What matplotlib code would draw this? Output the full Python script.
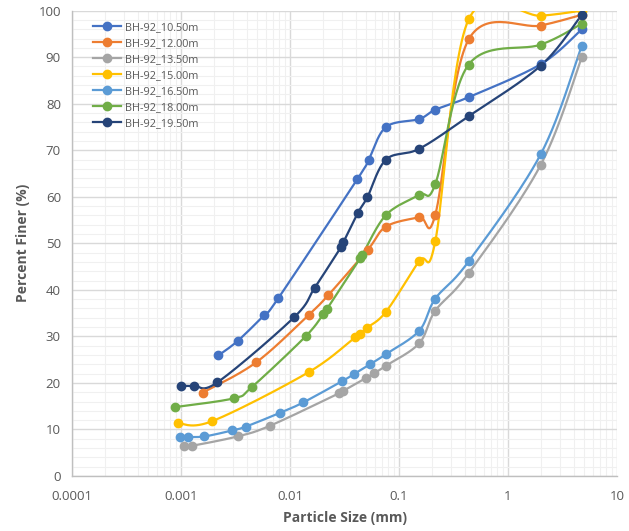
import matplotlib
matplotlib.use("Agg")
import matplotlib.pyplot as plt
from matplotlib.ticker import FixedLocator, MultipleLocator, LogLocator, NullFormatter
import numpy as np

plt.rcParams['font.family'] = ['Open Sans', 'DejaVu Sans']

labels = ["BH-92_10.50m", "BH-92_12.00m", "BH-92_13.50m", "BH-92_15.00m",
          "BH-92_16.50m", "BH-92_18.00m", "BH-92_19.50m"]
colors = ["#4472C4", "#ED7D31", "#A5A5A5", "#FFC000", "#5B9BD5", "#70AD47", "#264478"]

# particle size (mm) and percent finer for each sample
x_1050 = [0.0022, 0.0033, 0.0058, 0.0078, 0.0415, 0.0527, 0.076, 0.153, 0.215, 0.435, 2.0, 4.75]
y_1050 = [25.9, 29.0, 34.6, 38.2, 63.8, 68.0, 75.0, 76.7, 78.7, 81.4, 88.5, 96.0]

x_1200 = [0.00158, 0.00488, 0.0148, 0.0225, 0.0516, 0.076, 0.153, 0.215, 0.435, 2.0, 4.75]
y_1200 = [17.9, 24.4, 34.6, 38.9, 48.6, 53.6, 55.6, 56.1, 93.8, 96.8, 99.1]

x_1350 = [0.00107, 0.00126, 0.0033, 0.00656, 0.0283, 0.0308, 0.0494, 0.0594, 0.076, 0.153, 0.215, 0.435, 2.0, 4.75]
y_1350 = [6.5, 6.5, 8.5, 10.8, 17.8, 18.3, 21.0, 22.1, 23.7, 28.5, 35.5, 43.6, 66.9, 90.0]

x_1500 = [0.00094, 0.00194, 0.0148, 0.0395, 0.0439, 0.0505, 0.076, 0.153, 0.215, 0.435, 2.0, 4.75]
y_1500 = [11.3, 11.8, 22.3, 29.8, 30.5, 31.8, 35.3, 46.2, 50.4, 98.1, 98.9, 100.0]

x_1650 = [0.00097, 0.00115, 0.00164, 0.00296, 0.00392, 0.00815, 0.0132, 0.0302, 0.0386, 0.0542, 0.076, 0.153, 0.215, 0.435, 2.0, 4.75]
y_1650 = [8.4, 8.4, 8.5, 9.8, 10.6, 13.6, 15.8, 20.4, 21.9, 24.0, 26.2, 31.2, 38.1, 46.1, 69.2, 92.5]

x_1800 = [0.00088, 0.00306, 0.00446, 0.0139, 0.0202, 0.0217, 0.044, 0.046, 0.076, 0.153, 0.215, 0.435, 2.0, 4.75]
y_1800 = [14.8, 16.7, 19.1, 30.0, 34.8, 35.8, 46.8, 47.5, 56.1, 60.4, 62.7, 88.4, 92.7, 97.2]

x_1950 = [0.00101, 0.00132, 0.00215, 0.0109, 0.0169, 0.0292, 0.0308, 0.0418, 0.0512, 0.076, 0.153, 0.435, 2.0, 4.75]
y_1950 = [19.4, 19.4, 20.1, 34.1, 40.5, 49.1, 50.2, 56.5, 59.9, 68.0, 70.3, 77.3, 88.2, 99.1]

series_x = [x_1050, x_1200, x_1350, x_1500, x_1650, x_1800, x_1950]
series_y = [y_1050, y_1200, y_1350, y_1500, y_1650, y_1800, y_1950]

x_ticks = [0.0001, 0.001, 0.01, 0.1, 1, 10]
x_ticklabels = ["0.0001", "0.001", "0.01", "0.1", "1", "10"]
y_ticks = list(range(0, 101, 10))

fig = plt.figure(figsize=(6.29, 5.31), dpi=100)
ax = fig.add_axes([0.1145, 0.1036, 0.8665, 0.8764])
ax.set_xscale('log')
ax.set_xlim(0.0001, 10)
ax.set_ylim(0, 100)

grey_txt = "#595959"


def smooth(xs, ys, n=30):
    # excel-like smoothed line: catmull-rom bezier in display space
    pts = ax.transData.transform(np.column_stack([xs, ys]))
    out = [pts[0]]
    m = len(pts)
    for i in range(m - 1):
        p0 = pts[i - 1] if i > 0 else pts[i]
        p1 = pts[i]
        p2 = pts[i + 1]
        p3 = pts[i + 2] if i + 2 < m else pts[i + 1]
        c1 = p1 + (p2 - p0) / 6.0
        c2 = p2 - (p3 - p1) / 6.0
        t = np.linspace(0, 1, n)[1:, None]
        seg = ((1 - t) ** 3) * p1 + 3 * ((1 - t) ** 2) * t * c1 + 3 * (1 - t) * t ** 2 * c2 + t ** 3 * p2
        out.extend(seg)
    out = np.array(out)
    data = ax.transData.inverted().transform(out)
    return data[:, 0], data[:, 1]


handles = []
for xs, ys, c, lab in zip(series_x, series_y, colors, labels):
    sx, sy = smooth(xs, ys)
    ax.plot(sx, sy, color=c, lw=1.6, zorder=3, solid_capstyle='round')
    ax.plot(xs, ys, 'o', color=c, ms=6, zorder=4)
    h, = ax.plot([], [], '-o', color=c, lw=1.6, ms=6, label=lab)
    handles.append(h)

ax.xaxis.set_major_locator(FixedLocator(x_ticks))
ax.set_xticklabels(x_ticklabels)
ax.xaxis.set_minor_locator(LogLocator(base=10, subs=np.arange(2, 10)))
ax.xaxis.set_minor_formatter(NullFormatter())
ax.set_yticks(y_ticks)
ax.yaxis.set_minor_locator(MultipleLocator(2))

ax.grid(which='major', color='#D9D9D9', lw=1.0, zorder=0)
ax.grid(which='minor', color='#F0F0F0', lw=0.8, zorder=0)
ax.set_axisbelow(True)

for s in ['top', 'right']:
    ax.spines[s].set_visible(False)
for s in ['left', 'bottom']:
    ax.spines[s].set_color('#BFBFBF')
    ax.spines[s].set_linewidth(1.0)

ax.tick_params(which='both', length=0, labelsize=9.5, labelcolor=grey_txt)
ax.tick_params(axis='x', pad=10)
ax.tick_params(axis='y', pad=8)

ax.set_xlabel("Particle Size (mm)", fontsize=10, fontweight='bold', color=grey_txt, labelpad=6)
ax.set_ylabel("Percent Finer (%)", fontsize=10, fontweight='bold', color=grey_txt, labelpad=6)

leg = ax.legend(handles=handles, loc='upper left', bbox_to_anchor=(0.024, 0.992),
                frameon=False, fontsize=7.8, handlelength=2.6, handletextpad=0.37,
                labelspacing=0.46, borderpad=0.2)
for t in leg.get_texts():
    t.set_color(grey_txt)

fig.savefig('out.png', dpi=100)
